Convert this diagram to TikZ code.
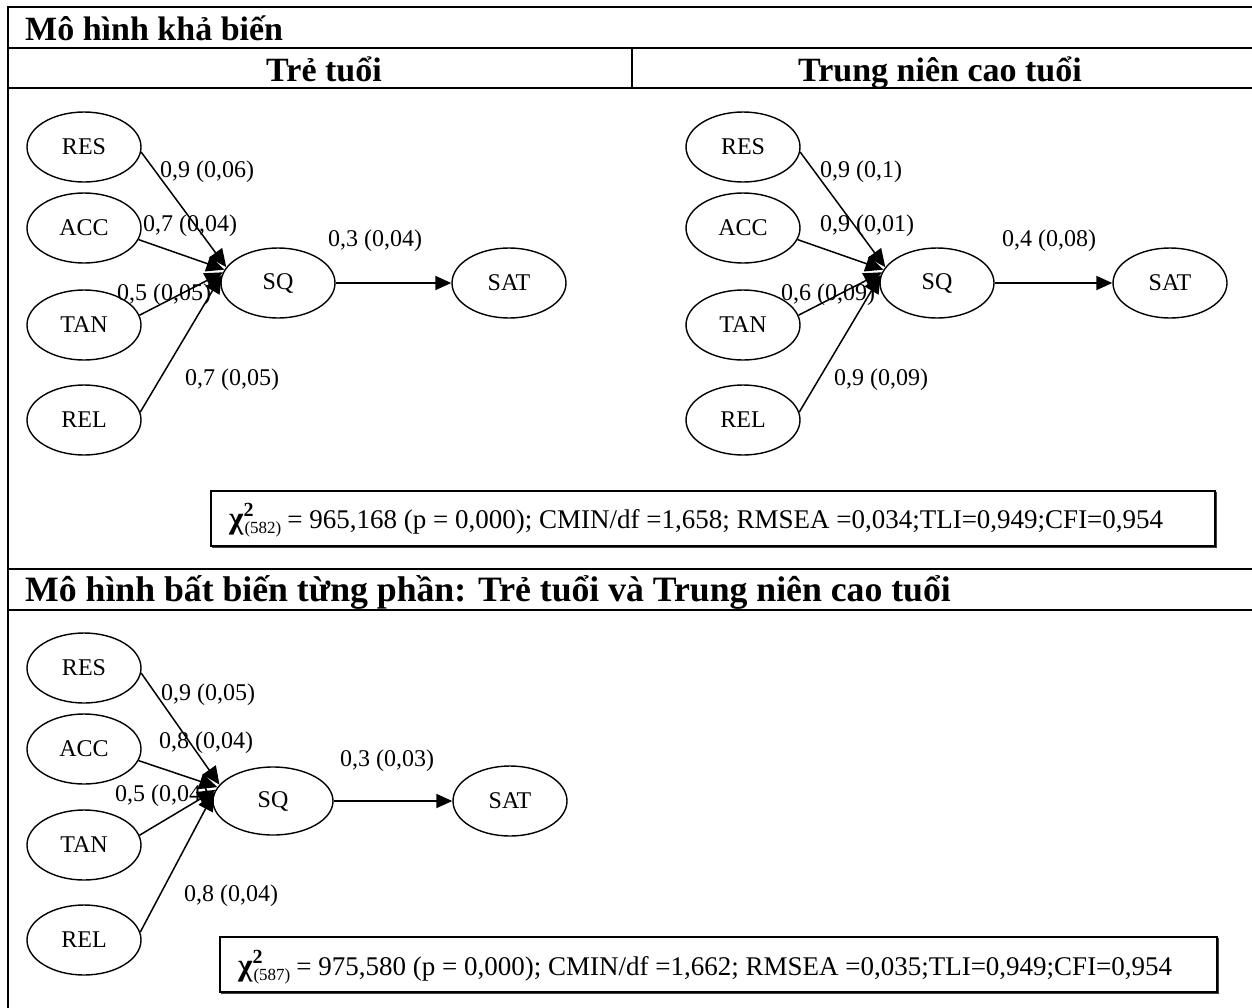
\documentclass[tikz,border=0pt]{standalone}
\usepackage{fontspec}
\setmainfont{Liberation Serif}
\usetikzlibrary{arrows.meta,shapes.geometric}

\tikzset{
  latent/.style={ellipse, draw, line width=1.4pt, minimum width=114pt, minimum height=70pt,
                 inner sep=0pt, font=\fontsize{24}{28}\selectfont},
  coef/.style={anchor=base west, inner sep=0pt, font=\fontsize{24}{28}\selectfont},
  link/.style={line width=1.5pt, -{Triangle[length=18pt,width=16pt]}},
  mainlink/.style={line width=1.8pt, -{Triangle[length=16pt,width=14pt]}},
  tablerule/.style={line width=2.2pt},
  head/.style={inner sep=0pt, font=\fontsize{34}{38}\selectfont\bfseries},
  fitframe/.style={draw, line width=1.3pt, inner sep=0pt},
  fitshade/.style={line width=1.6pt, black!75},
  fittext/.style={anchor=base west, inner sep=0pt, font=\fontsize{27}{30}\selectfont}
}

% chi-square with degrees of freedom
\newcommand{\chisq}[1]{{\fontsize{31}{31}\selectfont\bfseries χ}\rlap{\raisebox{12pt}{\fontsize{20}{20}\selectfont\bfseries 2}}\kern1pt\raisebox{-5pt}{\fontsize{17}{17}\selectfont (#1)}\kern6pt}

\begin{document}
\begin{tikzpicture}[x=1pt, y=-1pt]
\useasboundingbox (0,0) rectangle (1252,1007);

% ---- table frame ----
\draw[tablerule] (8,7) -- (1254,7);
\draw[tablerule] (8,48) -- (1254,48);
\draw[tablerule] (8,88) -- (1254,88);
\draw[tablerule] (8,569) -- (1254,569);
\draw[tablerule] (8,610) -- (1254,610);
\draw[tablerule] (8,6) -- (8,1010);
\draw[tablerule] (632,48) -- (632,88);

% ---- headings ----
\node[head, anchor=base west] (h1) at (25,40) {Mô hình khả biến};
\node[head, anchor=base] (h2) at (324,81) {Trẻ tuổi};
\node[head, anchor=base] (h3) at (940,81) {Trung niên cao tuổi};
\node[head, anchor=base west, font=\fontsize{35.7}{40}\selectfont\bfseries] (h4) at (25,601) {Mô hình bất biến từng phần: Trẻ tuổi và Trung niên cao tuổi};

% ---- configural model: young ----
\node[latent] (tRES) at (84,147) {RES};
\node[latent] (tACC) at (84,228) {ACC};
\node[latent] (tTAN) at (84,325) {TAN};
\node[latent] (tREL) at (84,420) {REL};
\node[latent] (tSQ)  at (278,283) {SQ};
\node[latent] (tSAT) at (509,283) {SAT};
\draw[link] (tRES.-5)  -- (tSQ.163);
\draw[link] (tACC.-12) -- (tSQ.166);
\draw[link] (tTAN.10)  -- (tSQ.169);
\draw[link] (tREL.8)   -- (tSQ.172);
\draw[mainlink] (tSQ.east) -- (tSAT.west);
\node[coef] (tc1) at (160,177) {0,9 (0,06)};
\node[coef] (tc2) at (143,231) {0,7 (0,04)};
\node[coef] (tc3) at (117,300) {0,5 (0,05)};
\node[coef] (tc4) at (185,385) {0,7 (0,05)};
\node[coef] (tc5) at (328,246) {0,3 (0,04)};

% ---- configural model: middle-aged and older ----
\node[latent] (mRES) at (743,147) {RES};
\node[latent] (mACC) at (743,228) {ACC};
\node[latent] (mTAN) at (743,325) {TAN};
\node[latent] (mREL) at (743,420) {REL};
\node[latent] (mSQ)  at (937,283) {SQ};
\node[latent] (mSAT) at (1170,283) {SAT};
\draw[link] (mRES.-5)  -- (mSQ.163);
\draw[link] (mACC.-12) -- (mSQ.166);
\draw[link] (mTAN.10)  -- (mSQ.169);
\draw[link] (mREL.8)   -- (mSQ.172);
\draw[mainlink] (mSQ.east) -- (mSAT.west);
\node[coef] (mc1) at (820,177) {0,9 (0,1)};
\node[coef] (mc2) at (820,231) {0,9 (0,01)};
\node[coef] (mc3) at (781,300) {0,6 (0,09)};
\node[coef] (mc4) at (834,385) {0,9 (0,09)};
\node[coef] (mc5) at (1002,246) {0,4 (0,08)};

% ---- fit indices, configural ----
\node[fitframe, minimum width=1004pt, minimum height=55pt] (fitA) at (713,518.5) {};
\draw[fitshade] ([xshift=2pt,yshift=-1pt]fitA.south west) -- ([xshift=1pt,yshift=-1pt]fitA.south east) -- ([xshift=1pt,yshift=-2pt]fitA.north east);
\node[fittext] (fitAtext) at (229,528) {\chisq{582}= 965,168 (p = 0,000); CMIN/df =1,658; RMSEA =0,034;TLI=0,949;CFI=0,954};

% ---- partial invariance model ----
\node[latent] (bRES) at (84,668) {RES};
\node[latent] (bACC) at (84,749) {ACC};
\node[latent] (bTAN) at (84,845) {TAN};
\node[latent] (bREL) at (84,940) {REL};
\node[latent, minimum width=120pt, minimum height=68pt] (bSQ) at (273,801) {SQ};
\node[latent] (bSAT) at (510,801) {SAT};
\draw[link] (bRES.-5)  -- (bSQ.163);
\draw[link] (bACC.-12) -- (bSQ.166);
\draw[link] (bTAN.10)  -- (bSQ.169);
\draw[link] (bREL.8)   -- (bSQ.172);
\draw[mainlink] (bSQ.east) -- (bSAT.west);
\node[coef] (bc1) at (161,700) {0,9 (0,05)};
\node[coef] (bc2) at (159,748) {0,8 (0,04)};
\node[coef] (bc3) at (115,801) {0,5 (0,04)};
\node[coef] (bc4) at (184,901) {0,8 (0,04)};
\node[coef] (bc5) at (340,766) {0,3 (0,03)};

% ---- fit indices, partial invariance ----
\node[fitframe, minimum width=997pt, minimum height=55pt] (fitB) at (718.5,964.5) {};
\draw[fitshade] ([xshift=2pt,yshift=-1pt]fitB.south west) -- ([xshift=1pt,yshift=-1pt]fitB.south east) -- ([xshift=1pt,yshift=-2pt]fitB.north east);
\node[fittext] (fitBtext) at (238,975) {\chisq{587}= 975,580 (p = 0,000); CMIN/df =1,662; RMSEA =0,035;TLI=0,949;CFI=0,954};
\end{tikzpicture}
\end{document}
